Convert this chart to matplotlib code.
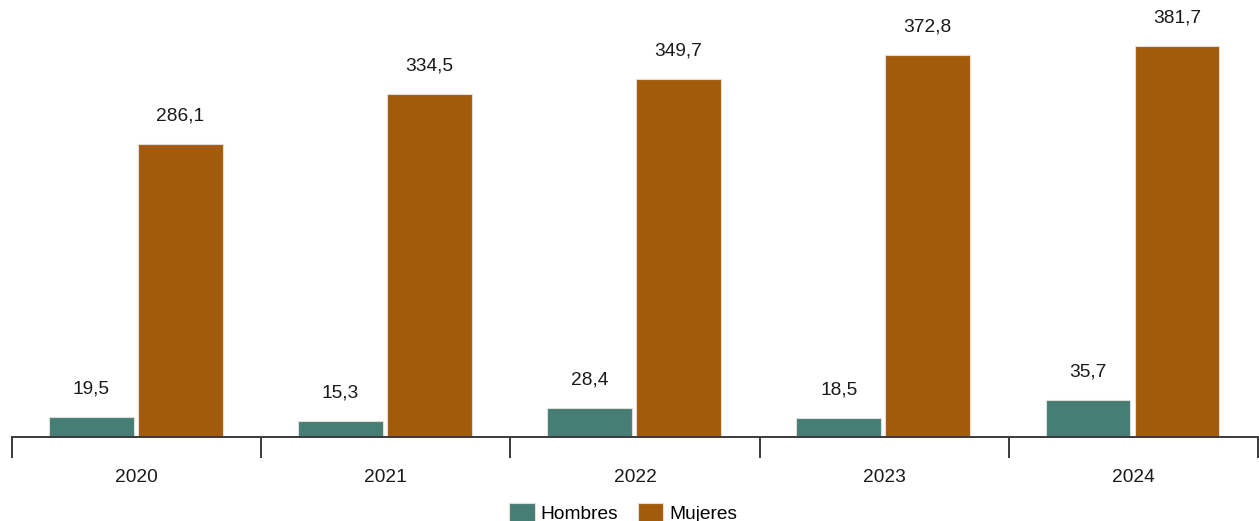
import matplotlib
matplotlib.use("Agg")
import matplotlib.pyplot as plt
import numpy as np

plt.rcParams['font.family'] = ['Liberation Sans', 'DejaVu Sans']

years = ["2020", "2021", "2022", "2023", "2024"]
hombres = [19.5, 15.3, 28.4, 18.5, 35.7]
mujeres = [286.1, 334.5, 349.7, 372.8, 381.7]
series_names = ["Hombres", "Mujeres"]
colors = ["#467D74", "#A35A0B"]

W, H = 1259, 521
fig = plt.figure(figsize=(W / 100, H / 100), dpi=100)
ax = fig.add_axes([12 / W, (H - 437) / H, (1258 - 12) / W, 437 / H])

x = np.arange(len(years))
width = 0.34
offs = [-0.182, 0.175]
FS = 13.8

def fmt(v):
    return f"{v:.1f}".replace(".", ",")

for vals, off, c, name in zip([hombres, mujeres], offs, colors, series_names):
    bars = ax.bar(x + off, vals, width, color=c, edgecolor="#e0dcd8", linewidth=0.8, label=name, zorder=2)
    for b, v in zip(bars, vals):
        ax.annotate(fmt(v), (b.get_x() + b.get_width() / 2, v), xytext=(0, 14),
                    textcoords="offset points", ha="center", va="bottom", fontsize=FS, color="#1a1a1a")

ax.set_xlim(-0.5, len(years) - 0.5)
ax.set_ylim(0, 437 / 1.0245)

for s in ["top", "right", "left"]:
    ax.spines[s].set_visible(False)
ax.spines["bottom"].set_color("#3a3a3a")
ax.spines["bottom"].set_linewidth(1.4)
ax.set_yticks([])

ax.set_xticks(np.arange(len(years) + 1) - 0.5)
ax.set_xticklabels([])
ax.tick_params(axis="x", which="major", length=15, width=1.4, color="#3a3a3a", direction="out")
ax.set_xticks(x, minor=True)
ax.set_xticklabels(years, minor=True, fontsize=FS, color="#1a1a1a")
ax.tick_params(axis="x", which="minor", length=0, pad=23)

fig.legend(loc="lower center", bbox_to_anchor=(0.495, -0.036), ncol=2, frameon=False,
           fontsize=FS, handlelength=1.35, handleheight=1.15, handletextpad=0.3, columnspacing=1.0)

fig.savefig("out.png", dpi=100)
